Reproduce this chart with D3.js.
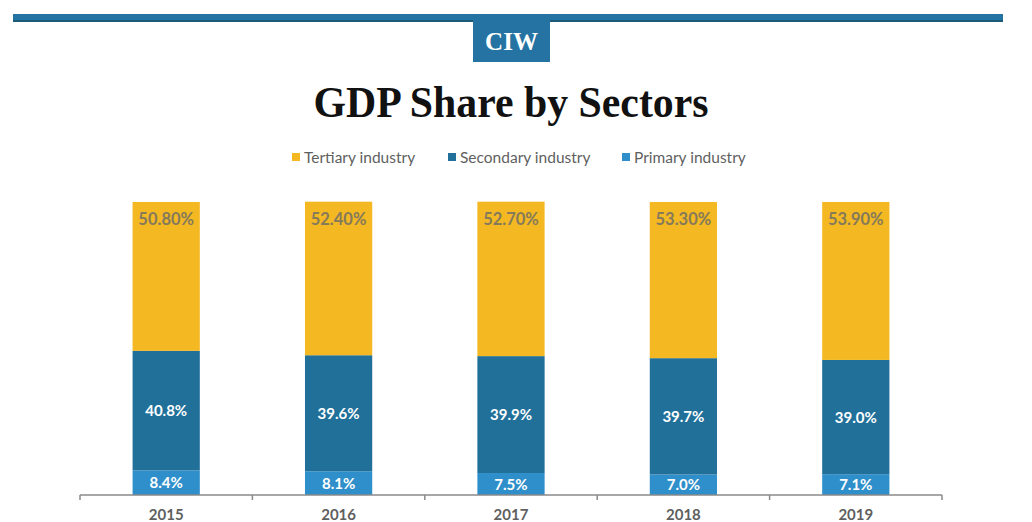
<!DOCTYPE html>
<html>
<head>
<meta charset="utf-8">
<script src="https://cdn.jsdelivr.net/npm/d3@7"></script>
<style>
  html, body { margin: 0; padding: 0; background: #fff; }
  svg { display: block; }
</style>
</head>
<body>
<svg id="chart" width="1032" height="522"></svg>
<script>
// GDP share by sector, percent of total
const years = ["2015", "2016", "2017", "2018", "2019"];
const primary = [8.4, 8.1, 7.5, 7.0, 7.1];
const secondary = [40.8, 39.6, 39.9, 39.7, 39.0];
const tertiary = [50.8, 52.4, 52.7, 53.3, 53.9];
const seriesNames = ["Tertiary industry", "Secondary industry", "Primary industry"];
const yDomain = [0, 100];

const colors = {
  "Primary industry": "#2f8fcb",
  "Secondary industry": "#20709a",
  "Tertiary industry": "#f4b823"
};

const svg = d3.select("#chart");

// Header band and badge
svg.append("rect").attr("x", 13).attr("y", 14).attr("width", 990).attr("height", 8).attr("fill", "#2473a2");
svg.append("rect").attr("x", 13).attr("y", 20).attr("width", 990).attr("height", 2).attr("fill", "#1d5a78");
svg.append("rect").attr("x", 473).attr("y", 14).attr("width", 77).attr("height", 48).attr("fill", "#2473a2");
svg.append("text").attr("x", 511.5).attr("y", 50).attr("text-anchor", "middle")
  .attr("font-family", "'Liberation Serif', 'DejaVu Serif', serif").attr("font-weight", "bold")
  .attr("font-size", 25).attr("fill", "#fff").text("CIW");

// Title
svg.append("text").attr("x", 511).attr("y", 117).attr("text-anchor", "middle")
  .attr("font-family", "'Liberation Serif', 'DejaVu Serif', serif").attr("font-weight", "bold")
  .attr("font-size", 45).attr("fill", "#111")
  .attr("textLength", 395).attr("lengthAdjust", "spacingAndGlyphs")
  .text("GDP Share by Sectors");

// Legend
const legendX = [292, 448, 622];
const legend = svg.append("g").attr("font-family", "Lato, sans-serif").attr("font-size", 15.5).attr("fill", "#5f5f5f");
seriesNames.forEach((name, i) => {
  legend.append("rect").attr("x", legendX[i]).attr("y", 153).attr("width", 8).attr("height", 8).attr("fill", colors[name]);
  legend.append("text").attr("x", legendX[i] + 12).attr("y", 162.5).text(name);
});

// Scales
const x = d3.scaleBand().domain(years).range([80, 942]).paddingInner(0.61).paddingOuter(0.305);
const y = d3.scaleLinear().domain(yDomain).range([495, 202]);

const rows = years.map((yr, i) => ({
  year: yr,
  "Primary industry": primary[i],
  "Secondary industry": secondary[i],
  "Tertiary industry": tertiary[i]
}));
const stack = d3.stack().keys(["Primary industry", "Secondary industry", "Tertiary industry"]);
const layers = stack(rows);

const g = svg.append("g");
layers.forEach(layer => {
  g.selectAll(null).data(layer).enter().append("rect")
    .attr("x", d => x(d.data.year))
    .attr("y", d => y(d[1]))
    .attr("width", x.bandwidth())
    .attr("height", d => y(d[0]) - y(d[1]))
    .attr("fill", colors[layer.key]);
});

// Value labels
const labels = svg.append("g").attr("font-family", "Lato, sans-serif").attr("font-weight", "bold")
  .attr("text-anchor", "middle");
layers.forEach(layer => {
  const top = layer.key === "Tertiary industry";
  labels.selectAll(null).data(layer).enter().append("text")
    .attr("x", d => x(d.data.year) + x.bandwidth() / 2)
    .attr("y", d => top ? y(d[1]) + 23 : (y(d[0]) + y(d[1])) / 2 + 5.5)
    .attr("font-size", top ? 16.5 : 15)
    .attr("fill", top ? "#857a5a" : "#ffffff")
    .text(d => {
      const v = d.data[layer.key];
      return top ? v.toFixed(2) + "%" : v.toFixed(1) + "%";
    });
});

// X axis: baseline, boundary ticks and year labels
const axisG = svg.append("g").attr("transform", "translate(0,495)");
axisG.call(d3.axisBottom(x).tickSize(0).tickPadding(14))
  .call(s => s.select(".domain").attr("stroke", "#8a8a8a").attr("stroke-width", 1.5).attr("d", `M${x.range()[0]},0H${x.range()[1]}`))
  .call(s => s.selectAll(".tick text").attr("font-family", "Lato, sans-serif").attr("font-size", 15)
    .attr("font-weight", "bold").attr("fill", "#5f5f5f"));
const bounds = years.map(yr => x(yr) - x.step() * x.paddingInner() / 2);
bounds.push(x.range()[1]);
axisG.selectAll(".bound").data(bounds).enter().append("line")
  .attr("x1", d => d).attr("x2", d => d).attr("y1", 0).attr("y2", 5)
  .attr("stroke", "#8a8a8a").attr("stroke-width", 1.5);
</script>
</body>
</html>
